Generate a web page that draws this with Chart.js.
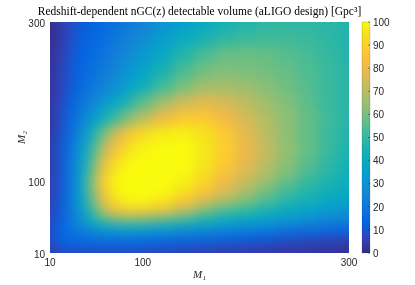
<!DOCTYPE html>
<html>
<head>
<meta charset="utf-8">
<script src="https://cdn.jsdelivr.net/npm/chart.js@4.4.1/dist/chart.umd.min.js"></script>
<style>
  html, body { margin: 0; padding: 0; background: #fff; }
  canvas { display: block; }
</style>
</head>
<body>
<canvas id="volChart" width="415" height="285"></canvas>
<script>
// mass grid (same for M1 columns and M2 rows)
const m1Grid = [10, 20, 30, 40, 50, 60, 70, 80, 90, 100, 120, 140, 160, 180, 200, 220, 240, 260, 280, 300];
const m2Grid = [10, 20, 30, 40, 50, 60, 70, 80, 90, 100, 120, 140, 160, 180, 200, 220, 240, 260, 280, 300];

// detectable volume [Gpc^3], one row per M2 (bottom -> top), one value per M1
const volRows = [
  [4, 6, 7, 7, 7, 7, 7, 7, 7, 6, 6, 5, 5, 4, 4, 3, 3, 3, 2, 2],
  [7, 11, 12, 12, 12, 12, 12, 12, 12, 12, 11, 10, 9, 8, 7, 6, 5, 4, 4, 3],
  [8, 13, 16, 17, 18, 19, 20, 20, 20, 19, 18, 17, 16, 14, 13, 12, 10, 9, 8, 7],
  [8, 13, 18, 22, 27, 30, 32, 34, 34, 33, 32, 29, 27, 25, 23, 21, 19, 17, 15, 14],
  [7, 12, 19, 28, 38, 46, 51, 54, 54, 53, 50, 46, 42, 38, 35, 32, 29, 26, 24, 22],
  [6, 12, 19, 30, 46, 62, 72, 77, 78, 77, 72, 64, 55, 48, 45, 41, 37, 33, 30, 28],
  [6, 11, 19, 33, 52, 70, 85, 93, 95, 94, 89, 79, 68, 60, 55, 49, 44, 40, 36, 33],
  [5, 11, 19, 35, 56, 77, 92, 98, 100, 100, 97, 89, 80, 71, 63, 56, 50, 45, 41, 38],
  [5, 10, 19, 36, 58, 81, 95, 100, 100, 100, 100, 95, 87, 78, 68, 59, 52, 47, 43, 40],
  [5, 10, 19, 36, 59, 84, 97, 100, 100, 100, 100, 98, 91, 81, 73, 66, 58, 51, 46, 42],
  [4, 10, 19, 34, 54, 77, 91, 98, 100, 100, 100, 100, 95, 87, 78, 70, 62, 55, 49, 44],
  [4, 10, 18, 31, 49, 67, 81, 90, 96, 99, 100, 100, 96, 89, 80, 72, 64, 57, 51, 46],
  [3, 9, 16, 27, 41, 56, 70, 80, 88, 93, 97, 98, 95, 88, 79, 71, 63, 57, 51, 47],
  [3, 8, 14, 22, 31, 40, 49, 57, 64, 71, 81, 87, 87, 82, 75, 69, 63, 57, 52, 48],
  [3, 7, 12, 18, 24, 30, 36, 42, 49, 56, 66, 74, 78, 75, 71, 66, 61, 56, 51, 48],
  [2, 6, 11, 15, 19, 23, 27, 32, 37, 43, 52, 60, 66, 67, 65, 62, 59, 55, 51, 48],
  [2, 6, 10, 14, 17, 20, 24, 28, 32, 37, 45, 53, 59, 61, 60, 59, 57, 54, 51, 48],
  [2, 5, 9, 13, 15, 18, 21, 25, 28, 32, 39, 47, 53, 57, 58, 57, 55, 53, 50, 47],
  [1, 4, 8, 12, 14, 16, 19, 22, 25, 28, 34, 40, 45, 49, 51, 52, 52, 51, 49, 47],
  [1, 4, 8, 11, 13, 15, 17, 19, 22, 25, 30, 35, 40, 44, 47, 49, 49, 49, 48, 47]
];

const xTicks = [10, 100, 300];
const yTicks = [10, 100, 300];
const cbTicks = [0, 10, 20, 30, 40, 50, 60, 70, 80, 90, 100];
const chartTitle = "Redshift-dependent nGC(z) detectable volume (aLIGO design) [Gpc³]";

// parula colormap (every 4th entry of the 64 colour table)
const parula = [
  [0.2081, 0.1663, 0.5292], [0.1959, 0.2645, 0.7279], [0.0117, 0.3875, 0.8820],
  [0.0498, 0.4586, 0.8641], [0.0793, 0.5200, 0.8312], [0.0343, 0.5966, 0.8199],
  [0.0228, 0.6535, 0.7768], [0.0843, 0.6928, 0.7062], [0.2178, 0.7250, 0.6193],
  [0.3953, 0.7459, 0.5244], [0.5709, 0.7485, 0.4494], [0.7184, 0.7411, 0.3905],
  [0.8507, 0.7299, 0.3360], [0.9739, 0.7314, 0.2666], [0.9880, 0.8066, 0.1794],
  [0.9589, 0.8949, 0.1132], [0.9763, 0.9831, 0.0538]
];
const parulaPos = [0, 4, 8, 12, 16, 20, 24, 28, 32, 36, 40, 44, 48, 52, 56, 60, 63].map(k => k / 63);

function rgb(c) {
  return "rgb(" + c.map(v => Math.round(v * 255)).join(",") + ")";
}

function parulaColor(v) {
  const t = Math.max(0, Math.min(1, v / 100));
  let i = 0;
  while (i < parulaPos.length - 2 && t > parulaPos[i + 1]) i++;
  const f = (t - parulaPos[i]) / (parulaPos[i + 1] - parulaPos[i]);
  const a = parula[i], b = parula[i + 1];
  return rgb(a.map((c, k) => c + (b[k] - c) * f));
}

// cell borders half way between grid values
function cellEdges(grid) {
  const e = [grid[0] - (grid[1] - grid[0]) / 2];
  for (let k = 1; k < grid.length; k++) e.push((grid[k - 1] + grid[k]) / 2);
  e.push(grid[grid.length - 1] + (grid[grid.length - 1] - grid[grid.length - 2]) / 2);
  return e;
}

const cells = [];
volRows.forEach((row, j) => {
  row.forEach((v, i) => {
    cells.push({ x: m1Grid[i], y: m2Grid[j], v: v, i: i, j: j });
  });
});

const heatmapPlugin = {
  id: "heatmap",
  beforeDatasetsDraw(chart) {
    const { ctx, chartArea: area, scales: { x, y } } = chart;
    const ex = cellEdges(m1Grid);
    const ey = cellEdges(m2Grid);
    const off = document.createElement("canvas");
    off.width = chart.width;
    off.height = chart.height;
    const oc = off.getContext("2d");

    chart.data.datasets[0].data.forEach((pt) => {
      let x0 = x.getPixelForValue(ex[pt.i]);
      let x1 = x.getPixelForValue(ex[pt.i + 1]);
      let y0 = y.getPixelForValue(ey[pt.j + 1]);
      let y1 = y.getPixelForValue(ey[pt.j]);
      // stretch outer cells so the blur does not fade the edges
      if (pt.i === 0) x0 = area.left - 30;
      if (pt.i === m1Grid.length - 1) x1 = area.right + 30;
      if (pt.j === 0) y1 = area.bottom + 30;
      if (pt.j === m2Grid.length - 1) y0 = area.top - 30;
      oc.fillStyle = parulaColor(pt.v);
      oc.fillRect(Math.floor(x0), Math.floor(y0), Math.ceil(x1 - x0) + 1, Math.ceil(y1 - y0) + 1);
    });

    ctx.save();
    ctx.beginPath();
    ctx.rect(area.left, area.top, area.right - area.left, area.bottom - area.top);
    ctx.clip();
    ctx.filter = "blur(6px)";
    ctx.drawImage(off, 0, 0, chart.width, chart.height);
    ctx.restore();
  }
};

const colorbarPlugin = {
  id: "colorbar",
  afterDraw(chart) {
    const { ctx, chartArea: area } = chart;
    const cb = chart.scales.cb;
    const left = area.right + 13;
    const w = 8;
    const top = cb.getPixelForValue(100);
    const bottom = cb.getPixelForValue(0);

    const grad = ctx.createLinearGradient(0, bottom, 0, top);
    parula.forEach((c, k) => grad.addColorStop(parulaPos[k], rgb(c)));
    ctx.save();
    ctx.fillStyle = grad;
    ctx.fillRect(left, top, w, bottom - top);
    ctx.strokeStyle = "rgba(38,38,38,0.35)";
    ctx.lineWidth = 0.5;
    ctx.strokeRect(left, top, w, bottom - top);

    ctx.fillStyle = "#262626";
    ctx.strokeStyle = "#262626";
    ctx.font = "10px 'Liberation Sans', Arial, sans-serif";
    ctx.textAlign = "left";
    ctx.textBaseline = "middle";
    cbTicks.forEach((t) => {
      const py = cb.getPixelForValue(t);
      ctx.beginPath();
      ctx.moveTo(left + w - 2, py);
      ctx.lineTo(left + w, py);
      ctx.stroke();
      ctx.fillText(String(t), left + w + 3, py + 1);
    });

    // title centred over the plot box
    ctx.fillStyle = "#000";
    ctx.font = "11.5px 'Liberation Serif', 'DejaVu Serif', serif";
    ctx.textAlign = "center";
    ctx.textBaseline = "alphabetic";
    ctx.fillText(chartTitle, (area.left + area.right) / 2, area.top - 7);
    ctx.restore();
  }
};

const tickFont = { family: "'Liberation Sans', Arial, sans-serif", size: 10 };
const labelFont = { family: "'Liberation Serif', 'DejaVu Serif', serif", size: 11, style: "italic" };

new Chart(document.getElementById("volChart"), {
  type: "scatter",
  data: {
    datasets: [
      {
        data: cells,
        pointRadius: 0,
        pointHoverRadius: 0,
        showLine: false
      }
    ]
  },
  options: {
    responsive: false,
    animation: false,
    events: [],
    layout: { padding: { left: 0, right: 66, top: 22, bottom: 0 } },
    plugins: {
      legend: { display: false },
      tooltip: { enabled: false },
      title: { display: false }
    },
    scales: {
      x: {
        type: "linear",
        min: 10,
        max: 300,
        afterBuildTicks: (s) => { s.ticks = xTicks.map((v) => ({ value: v })); },
        afterFit: (s) => { s.height = 32; },
        grid: { display: false, drawTicks: false },
        border: { display: false },
        ticks: { color: "#262626", font: tickFont, padding: 4, maxRotation: 0 },
        title: { display: true, text: "M₁", color: "#262626", font: labelFont, padding: { top: 0, bottom: 3.4 } }
      },
      y: {
        type: "linear",
        min: 10,
        max: 300,
        afterBuildTicks: (s) => { s.ticks = yTicks.map((v) => ({ value: v })); },
        afterFit: (s) => { s.width = 50; },
        grid: { display: false, drawTicks: false },
        border: { display: false },
        ticks: { color: "#262626", font: tickFont, padding: 5, labelOffset: 2 },
        title: { display: true, text: "M₂", color: "#262626", font: labelFont, padding: { top: 15.4, bottom: 0 } }
      },
      cb: {
        type: "linear",
        position: "right",
        min: 0,
        max: 100,
        display: false
      }
    }
  },
  plugins: [heatmapPlugin, colorbarPlugin]
});
</script>
</body>
</html>
